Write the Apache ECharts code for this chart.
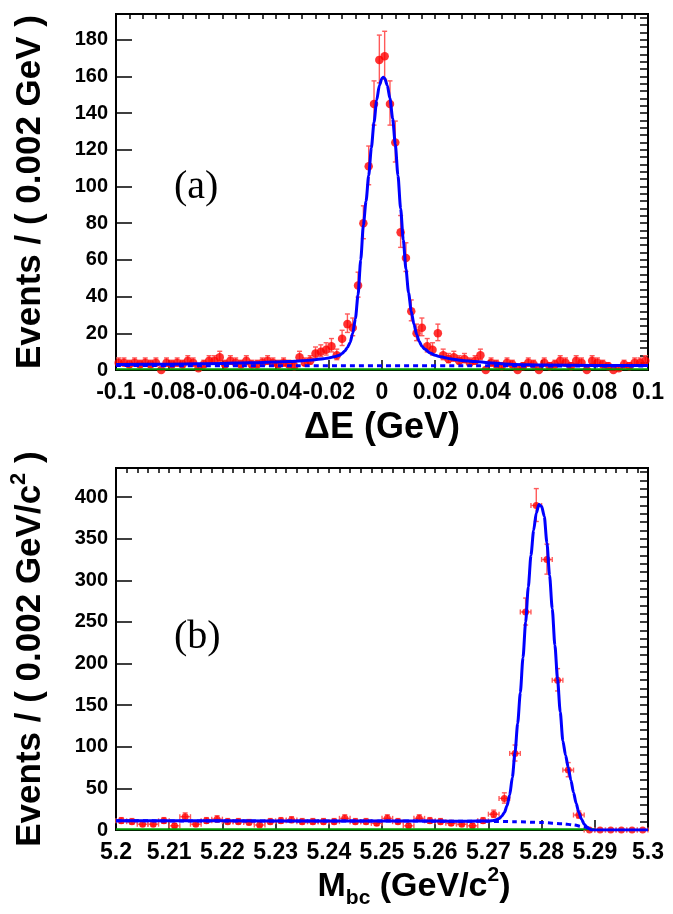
<!DOCTYPE html>
<html><head><meta charset="utf-8">
<script src="https://cdn.jsdelivr.net/npm/echarts@6/dist/echarts.min.js"></script>
<style>html,body{margin:0;padding:0;background:#fff}#c{width:673px;height:914px}</style>
</head><body><div id="c"></div>
<script>
// ---------------- Panel (a): Delta E ----------------
const xMinA = -0.1, xMaxA = 0.1, binA = 0.002;
const countsA = [
  4, 4, 3, 4, 3, 4, 3, 4, 0, 4,
  3, 4, 3, 5, 4, 1, 3, 5, 5, 7,
  3, 5, 4, 3, 5, 3, 3, 4, 5, 4,
  3, 4, 3, 2, 7, 4, 5, 9, 10, 11,
  13, 8, 17, 25, 23, 46, 80, 111, 145, 169,
  171, 145, 124, 75, 61, 32, 20, 23, 13, 11,
  20, 8, 6, 7, 5, 6, 4, 5, 8, 0,
  4, 3, 2, 4, 3, 0, 2, 4, 3, 0,
  4, 2, 3, 5, 4, 2, 5, 4, 0, 5,
  4, 3, 2, 0, 1, 3, 2, 4, 4, 5
];
const fitTotA_x = [-0.1, -0.08, -0.06, -0.05, -0.04, -0.035, -0.03, -0.026, -0.022, -0.02, -0.018,
  -0.016, -0.015, -0.014, -0.013, -0.012, -0.011, -0.010, -0.009, -0.008, -0.007, -0.006, -0.005, -0.004, -0.003, -0.002, -0.001,
  0.000, 0.0005, 0.001, 0.002, 0.003, 0.004, 0.005, 0.006, 0.007, 0.008, 0.009, 0.010, 0.011, 0.012, 0.013, 0.014, 0.015, 0.016,
  0.018, 0.020, 0.022, 0.026, 0.030, 0.035, 0.040, 0.046, 0.050, 0.060, 0.080, 0.100];
const fitTotA_y = [3.0, 3.2, 3.6, 3.9, 4.3, 4.6, 5.0, 5.5, 6.1, 6.6, 7.2,
  8.0, 9.0, 10.3, 12.2, 15, 20, 28, 41, 60, 79, 92, 106, 121, 135, 147, 155,
  159, 159.5, 159, 155, 148, 137, 123, 106, 88, 71, 55, 42, 32, 25, 19.5, 15.5, 13, 11.5,
  9.3, 8.0, 7.2, 6.0, 5.2, 4.6, 4.0, 3.3, 3.0, 2.7, 2.5, 2.4];
const fitBkgA_x = [-0.1, 0.1];
const fitBkgA_y = [2.4, 2.2];
const fitGrnA_x = [-0.1, 0.1];
const fitGrnA_y = [0.4, 0.4];

// ---------------- Panel (b): Mbc ----------------
const xMinB = 5.2, xMaxB = 5.3, binB = 0.002;
const countsB = [
  11, 10, 7, 7, 11, 5, 16, 7, 11, 13,
  10, 10, 9, 6, 10, 11, 12, 10, 10, 10,
  10, 14, 10, 10, 8, 14, 10, 5, 14, 11,
  10, 8, 7, 5, 11, 19, 38, 92, 262, 390,
  325, 180, 72, 18, 0, 0, 0, 0, 0, 0
];
const fitTotB_x = [5.2, 5.22, 5.24, 5.26, 5.266, 5.27, 5.2705, 5.271, 5.2715, 5.272, 5.2725, 5.273, 5.2735, 5.274, 5.2745,
  5.275, 5.2755, 5.276, 5.2765, 5.277, 5.2775, 5.278, 5.2785, 5.279, 5.2795, 5.280, 5.2805, 5.281, 5.2815, 5.282, 5.2825,
  5.283, 5.2835, 5.284, 5.2845, 5.285, 5.2855, 5.286, 5.2865, 5.287, 5.2875, 5.288, 5.2885, 5.289, 5.2893, 5.292, 5.3];
const fitTotB_y = [11.0, 11.0, 10.9, 10.7, 10.6, 10.8, 11.0, 11.5, 12.3, 13.8, 16.5, 21, 29, 42, 63,
  93, 128, 165, 207, 250, 292, 330, 360, 381, 391, 389, 377, 345, 306, 266, 222,
  181, 142, 107, 90, 75, 60, 45, 32, 21, 13, 7, 3.5, 1.5, 0, 0, 0];
const fitBkgB_x = [5.2, 5.25, 5.27, 5.275, 5.28, 5.284, 5.286, 5.288, 5.289, 5.2893];
const fitBkgB_y = [11.0, 10.8, 10.4, 10.0, 9.0, 7.5, 6.0, 3.8, 1.8, 0];
const fitGrnB_x = [5.2, 5.29];
const fitGrnB_y = [0.8, 0.8];

// axis ranges
const yMaxA = 194, yMaxB = 435;

// ---------------- build ----------------
const zip = (xs, ys) => xs.map((x, i) => [x, ys[i]]);
function pts(xmin, bw, counts) {
  return counts.map((n, i) => {
    const lo = n > 0 ? Math.sqrt(n + 0.25) - 0.5 : 0;
    const hi = n > 0 ? Math.sqrt(n + 0.25) + 0.5 : 0;
    return [xmin + bw * (i + 0.5), n, lo, hi, bw / 2];
  });
}
const ptsA = pts(xMinA, binA, countsA);
const ptsB = pts(xMinB, binB, countsB);

const ERR = '#ff5a5a';
function errRender(cap, showX) {
  return function (params, api) {
    const x = api.value(0), y = api.value(1), lo = api.value(2), hi = api.value(3), hw = api.value(4);
    const ch = [];
    const st = { stroke: ERR, lineWidth: 1.4 };
    if (hi > 0) {
      const a = api.coord([x, y - lo]), b = api.coord([x, y + hi]);
      ch.push({ type: 'line', shape: { x1: a[0], y1: a[1], x2: b[0], y2: b[1] }, style: st });
      ch.push({ type: 'line', shape: { x1: a[0] - cap, y1: a[1], x2: a[0] + cap, y2: a[1] }, style: st });
      ch.push({ type: 'line', shape: { x1: b[0] - cap, y1: b[1], x2: b[0] + cap, y2: b[1] }, style: st });
    }
    if (showX) {
      const l = api.coord([x - hw, y]), r = api.coord([x + hw, y]);
      ch.push({ type: 'line', shape: { x1: l[0], y1: l[1], x2: r[0], y2: r[1] }, style: st });
      ch.push({ type: 'line', shape: { x1: l[0], y1: l[1] - cap, x2: l[0], y2: l[1] + cap }, style: st });
      ch.push({ type: 'line', shape: { x1: r[0], y1: r[1] - cap, x2: r[0], y2: r[1] + cap }, style: st });
    }
    return { type: 'group', children: ch };
  };
}

const FONT = 'Liberation Sans, Arial, Helvetica, sans-serif';
const fmtNum = (v) => String(parseFloat((+v).toFixed(4)));
const lab = (size) => ({
  show: true, color: '#000', fontSize: size, fontWeight: 'bold', fontFamily: FONT,
  formatter: fmtNum, showMaxLabel: true, showMinLabel: true, hideOverlap: false
});

function majorX(grid, min, max, intv, tickLen, name, gap, rich, pad) {
  return {
    type: 'value', gridIndex: grid, min: min, max: max, interval: intv,
    axisLine: { show: true, onZero: false, lineStyle: { color: '#000', width: 2 } },
    axisTick: { show: true, inside: true, length: tickLen, lineStyle: { color: '#000', width: 1.5 } },
    minorTick: { show: false }, splitLine: { show: false },
    axisLabel: Object.assign(lab(23), { margin: 11 }),
    name: name, nameLocation: 'middle', nameGap: gap,
    nameTextStyle: { color: '#000', fontSize: 36, fontWeight: 'bold', fontFamily: FONT, rich: rich, padding: pad || 0 }
  };
}
function minorX(grid, min, max, intv, tickLen) {
  return {
    type: 'value', gridIndex: grid, min: min, max: max, interval: intv,
    axisLine: { show: false, onZero: false },
    axisTick: { show: true, inside: true, length: tickLen, lineStyle: { color: '#000', width: 1.5 } },
    axisLabel: { show: false }, splitLine: { show: false }
  };
}
function majorY(grid, max, intv, name, gap, rich) {
  return {
    type: 'value', gridIndex: grid, min: 0, max: max, interval: intv,
    axisLine: { show: true, onZero: false, lineStyle: { color: '#000', width: 2 } },
    axisTick: { show: true, inside: true, length: 16, lineStyle: { color: '#000', width: 1.5 } },
    splitLine: { show: false },
    axisLabel: Object.assign(lab(20), { margin: 8, showMaxLabel: false }),
    name: name, nameLocation: 'middle', nameGap: gap, nameRotate: 90,
    nameTextStyle: { color: '#000', fontSize: 35, fontWeight: 'bold', fontFamily: FONT, rich: rich }
  };
}
function minorY(grid, max, intv) {
  return {
    type: 'value', gridIndex: grid, min: 0, max: max, interval: intv,
    axisLine: { show: false, onZero: false },
    axisTick: { show: true, inside: true, length: 8, lineStyle: { color: '#000', width: 1.5 } },
    axisLabel: { show: false }, splitLine: { show: false }
  };
}

const richB_x = {
  n: { fontSize: 34, fontWeight: 'bold', fontFamily: FONT, color: '#000', lineHeight: 44, verticalAlign: 'middle' },
  sub: { fontSize: 21, fontWeight: 'bold', fontFamily: FONT, color: '#000', lineHeight: 21, verticalAlign: 'bottom' },
  sup: { fontSize: 21, fontWeight: 'bold', fontFamily: FONT, color: '#000', lineHeight: 21, verticalAlign: 'top' }
};
const richB_y = {
  n: { fontSize: 35, fontWeight: 'bold', fontFamily: FONT, color: '#000', lineHeight: 44, verticalAlign: 'middle' },
  sup: { fontSize: 22, fontWeight: 'bold', fontFamily: FONT, color: '#000', lineHeight: 22, verticalAlign: 'top' }
};

function curve(xi, yi, data, color, width, type, z) {
  return {
    type: 'line', xAxisIndex: xi, yAxisIndex: yi, data: data, showSymbol: false, symbol: 'none',
    smooth: 0.25, smoothMonotone: 'x', silent: true, z: z, clip: true,
    lineStyle: { color: color, width: width, type: type }
  };
}

const option = {
  animation: false,
  backgroundColor: '#fff',
  grid: [
    { left: 116, top: 14, width: 532, height: 356, show: true, borderColor: '#000', borderWidth: 2, backgroundColor: 'transparent', containLabel: false, outerBoundsMode: 'none' },
    { left: 116, top: 468, width: 532, height: 362, show: true, borderColor: '#000', borderWidth: 2, backgroundColor: 'transparent', containLabel: false, outerBoundsMode: 'none' }
  ],
  xAxis: [
    majorX(0, xMinA, xMaxA, 0.02, 10, 'ΔE (GeV)', 40, undefined),
    majorX(1, xMinB, xMaxB, 0.01, 10, '{n|M}{sub|bc}{n| (GeV/c}{sup|2}{n|)}', 33, richB_x, [0, 0, 0, 64]),
    minorX(0, xMinA, xMaxA, 0.005, 5),
    minorX(1, xMinB, xMaxB, 0.002, 5)
  ],
  yAxis: [
    majorY(0, yMaxA, 20, 'Events / ( 0.002 GeV )', 68, undefined),
    majorY(1, yMaxB, 50, '{n|Events / ( 0.002 GeV/c}{sup|2}{n| )}', 64, richB_y),
    minorY(0, yMaxA, 4),
    minorY(1, yMaxB, 10)
  ],
  series: [
    { type: 'custom', xAxisIndex: 0, yAxisIndex: 0, data: ptsA, renderItem: errRender(2.5, false), z: 2, clip: false, silent: true },
    { type: 'scatter', xAxisIndex: 0, yAxisIndex: 0, data: ptsA.map(p => [p[0], p[1]]), symbol: 'circle', symbolSize: 8.5, itemStyle: { color: '#ff0000' }, z: 3, clip: false, silent: true },
    curve(0, 0, zip(fitGrnA_x, fitGrnA_y), '#009900', 2, 'solid', 4),
    curve(0, 0, zip(fitBkgA_x, fitBkgA_y), '#0000ff', 3, [5, 4], 5),
    curve(0, 0, zip(fitTotA_x, fitTotA_y), '#0000ff', 3, 'solid', 6),

    { type: 'custom', xAxisIndex: 1, yAxisIndex: 1, data: ptsB, renderItem: errRender(2.5, true), z: 2, clip: false, silent: true },
    { type: 'scatter', xAxisIndex: 1, yAxisIndex: 1, data: ptsB.map(p => [p[0], p[1]]), symbol: 'circle', symbolSize: 7, itemStyle: { color: '#ff0000' }, z: 3, clip: false, silent: true },
    curve(1, 1, zip(fitGrnB_x, fitGrnB_y), '#009900', 2, 'solid', 4),
    curve(1, 1, zip(fitBkgB_x, fitBkgB_y), '#0000ff', 3, [5, 4], 5),
    curve(1, 1, zip(fitTotB_x, fitTotB_y), '#0000ff', 3, 'solid', 6)
  ],
  graphic: [
    { type: 'text', left: 174, top: 167, style: { text: '(a)', fontSize: 40, fontFamily: 'Liberation Serif, Times New Roman, serif', fill: '#000' } },
    { type: 'text', left: 174, top: 617, style: { text: '(b)', fontSize: 40, fontFamily: 'Liberation Serif, Times New Roman, serif', fill: '#000' } }
  ]
};

const chart = echarts.init(document.getElementById('c'), null, { renderer: 'canvas' });
chart.setOption(option);
</script></body></html>
